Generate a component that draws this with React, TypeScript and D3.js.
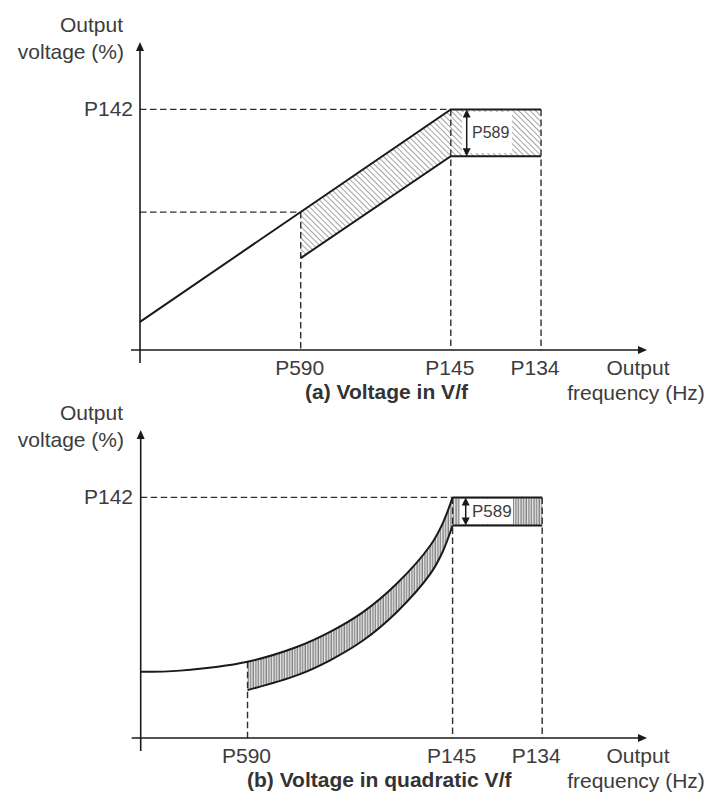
import React from 'react';
import * as d3 from 'd3';

// ---- data ----
const tickLabels = ['P590', 'P145', 'P134'];
const freqA = [0.317, 0.613, 0.791];
const freqB = [0.211, 0.616, 0.793];
const P142 = 100;

const lineAFreq = [0, 0.613, 0.791];
const lineAHigh = [11.7, 100, 100];
const bandAFreq = [0.317, 0.613, 0.791];
const bandAHigh = [57.3, 100, 100];
const bandALow = [38.2, 80.5, 80.5];

const curveBFreq = [0, 0.078, 0.211, 0.308, 0.374, 0.439, 0.506, 0.572, 0.596, 0.616];
const curveBHigh = [27.5, 28.0, 31.7, 37.8, 44.1, 52.3, 64.2, 80.0, 89.0, 100];
const bandBFreq = [0.211, 0.308, 0.374, 0.439, 0.506, 0.572, 0.596, 0.616];
const bandBHigh = [31.7, 37.8, 44.1, 52.3, 64.2, 80.0, 89.0, 100];
const bandBLow = [19.9, 26.0, 32.3, 40.5, 52.4, 68.2, 77.2, 88.3];
const plateauBLow = 88.3;

const titles = ['(a) Voltage in V/f', '(b) Voltage in quadratic V/f'];
const yLabelLines = ['Output', 'voltage (%)'];
const xLabelLines = ['Output', 'frequency (Hz)'];
const bandLabel = 'P589';

const W = 710;
const H = 796;
const FONT = "'Liberation Sans', Arial, Helvetica, sans-serif";
const TXT = '#3c3c3c';
const LINE = '#1a1a1a';
const DASH = '#2e2e2e';

type Panel = {
  x: d3.ScaleLinear<number, number>;
  y: d3.ScaleLinear<number, number>;
};

function makePanel(x0: number, y0: number): Panel {
  return {
    x: d3.scaleLinear().domain([0, 1]).range([x0, 647]),
    y: d3.scaleLinear().domain([0, 128]).range([y0, y0 - 308]),
  };
}

function Axes({ p }: { p: Panel }) {
  const x0 = p.x(0);
  const y0 = p.y(0);
  return (
    <g>
      <line x1={x0 - 9} x2={p.x(1) - 7} y1={y0} y2={y0} stroke={LINE} strokeWidth={1.6} />
      <path d={`M${p.x(1)},${y0} l-9,-4 l0,8 z`} fill={LINE} />
      <line x1={x0} x2={x0} y1={y0 + 13} y2={p.y(128) + 7} stroke={LINE} strokeWidth={1.6} />
      <path d={`M${x0},${p.y(128)} l-4,9 l8,0 z`} fill={LINE} />
    </g>
  );
}

function DArrow({ x, y1, y2 }: { x: number; y1: number; y2: number }) {
  return (
    <g>
      <line x1={x} x2={x} y1={y1 + 6} y2={y2 - 6} stroke={LINE} strokeWidth={1.5} />
      <path d={`M${x},${y1} l-4,8 l8,0 z`} fill={LINE} />
      <path d={`M${x},${y2} l-4,-8 l8,0 z`} fill={LINE} />
    </g>
  );
}

function TextBlock({ p, freqs, title, titleX }: any) {
  const y0 = p.y(0);
  return (
    <g fontFamily={FONT} fill={TXT}>
      <text x={123} y={y0 - 318} fontSize={21} textAnchor="end">{yLabelLines[0]}</text>
      <text x={124} y={y0 - 291} fontSize={21} textAnchor="end">{yLabelLines[1]}</text>
      <text x={133} y={p.y(P142) + 7} fontSize={21} textAnchor="end">P142</text>
      {tickLabels.map((t: string, i: number) => (
        <text key={t} x={p.x(freqs[i]) - (i === 2 ? 6 : 1)} y={y0 + 24.5} fontSize={21} textAnchor="middle">{t}</text>
      ))}
      <text x={638} y={y0 + 24.5} fontSize={21} textAnchor="middle">{xLabelLines[0]}</text>
      <text x={636} y={y0 + 50} fontSize={21} textAnchor="middle">{xLabelLines[1]}</text>
      <text x={titleX} y={y0 + 49} fontSize={21} fontWeight="bold" fill="#333">{title}</text>
    </g>
  );
}

export default function App() {
  const A = makePanel(140, 350);
  const B = makePanel(140.7, 738);

  const lineA = d3.line<number>().x((_, i) => A.x(lineAFreq[i])).y((d) => A.y(d))(lineAHigh) || '';
  const lowA = d3.line<number>().x((_, i) => A.x(bandAFreq[i])).y((d) => A.y(d))(bandALow) || '';
  const areaA = d3.area<number>()
    .x((_, i) => A.x(bandAFreq[i]))
    .y0((_, i) => A.y(bandALow[i]))
    .y1((d) => A.y(d))(bandAHigh) || '';

  const curve = d3.curveCatmullRom.alpha(0.5);
  const curveB = d3.line<number>().curve(curve)
    .x((_, i) => B.x(curveBFreq[i])).y((d) => B.y(d))(curveBHigh) || '';
  const lowB = d3.line<number>().curve(curve)
    .x((_, i) => B.x(bandBFreq[i])).y((d) => B.y(d))(bandBLow) || '';
  const areaB = d3.area<number>().curve(curve)
    .x((_, i) => B.x(bandBFreq[i]))
    .y0((_, i) => B.y(bandBLow[i]))
    .y1((d) => B.y(d))(bandBHigh) || '';
  const bP145 = B.x(freqB[1]);
  const bP134 = B.x(freqB[2]);

  const aP590 = A.x(freqA[0]);
  const aP145 = A.x(freqA[1]);
  const aP134 = A.x(freqA[2]);

  return (
    <div style={{ position: 'absolute', left: 0, top: 0 }}>
      <svg width={W} height={H} viewBox={`0 0 ${W} ${H}`} style={{ display: 'block', background: '#fff' }}>
        <defs>
          <pattern id="diag" patternUnits="userSpaceOnUse" width={4} height={4} patternTransform="rotate(-45)">
            <line x1={0} y1={0} x2={0} y2={4} stroke="#333" strokeWidth={0.9} />
          </pattern>
          <pattern id="vert" patternUnits="userSpaceOnUse" width={2.6} height={10}>
            <rect width={2.6} height={10} fill="#e8e8e8" />
            <line x1={1} y1={0} x2={1} y2={10} stroke="#555" strokeWidth={0.9} />
          </pattern>
        </defs>

        {/* ---------- Panel A ---------- */}
        <path d={areaA} fill="url(#diag)" />
        <rect x={462} y={112} width={50} height={41} fill="#fff" />
        <g stroke={DASH} strokeWidth={1.4} strokeDasharray="6.5,3.5" fill="none">
          <line x1={A.x(0)} x2={aP145} y1={A.y(P142)} y2={A.y(P142)} />
          <line x1={A.x(0)} x2={aP590} y1={A.y(bandAHigh[0])} y2={A.y(bandAHigh[0])} />
          <line x1={aP590} x2={aP590} y1={A.y(bandAHigh[0])} y2={A.y(0)} />
          <line x1={aP145} x2={aP145} y1={A.y(P142)} y2={A.y(0)} />
          <line x1={aP134} x2={aP134} y1={A.y(P142)} y2={A.y(0)} />
        </g>
        <path d={lineA} fill="none" stroke={LINE} strokeWidth={2} />
        <path d={lowA} fill="none" stroke={LINE} strokeWidth={2} />
        <Axes p={A} />
        <DArrow x={466.7} y1={A.y(P142)} y2={A.y(bandALow[1])} />
        <text x={472} y={138} fontSize={16} fontFamily={FONT} fill={TXT}>{bandLabel}</text>
        <TextBlock p={A} freqs={freqA} title={titles[0]} titleX={305} />

        {/* ---------- Panel B ---------- */}
        <path d={areaB} fill="url(#vert)" />
        <rect x={bP145} y={B.y(P142)} width={bP134 - bP145} height={B.y(plateauBLow) - B.y(P142)} fill="url(#vert)" />
        <rect x={460} y={B.y(P142) + 1.5} width={53} height={B.y(plateauBLow) - B.y(P142) - 3} fill="#fff" />
        <g stroke={DASH} strokeWidth={1.4} strokeDasharray="6.5,3.5" fill="none">
          <line x1={B.x(0)} x2={bP145} y1={B.y(P142)} y2={B.y(P142)} />
          <line x1={B.x(freqB[0])} x2={B.x(freqB[0])} y1={B.y(bandBHigh[0])} y2={B.y(0)} />
          <line x1={bP145} x2={bP145} y1={B.y(P142)} y2={B.y(0)} />
          <line x1={bP134} x2={bP134} y1={B.y(P142)} y2={B.y(0)} />
        </g>
        <path d={curveB} fill="none" stroke={LINE} strokeWidth={2} />
        <path d={lowB} fill="none" stroke={LINE} strokeWidth={2} />
        <line x1={bP145} x2={bP134} y1={B.y(P142)} y2={B.y(P142)} stroke={LINE} strokeWidth={2} />
        <line x1={bP145} x2={bP134} y1={B.y(plateauBLow)} y2={B.y(plateauBLow)} stroke={LINE} strokeWidth={2} />
        <Axes p={B} />
        <DArrow x={465.7} y1={B.y(P142)} y2={B.y(plateauBLow)} />
        <text x={472} y={516.7} fontSize={17} fontFamily={FONT} fill={TXT}>{bandLabel}</text>
        <TextBlock p={B} freqs={freqB} title={titles[1]} titleX={247} />
      </svg>
    </div>
  );
}
